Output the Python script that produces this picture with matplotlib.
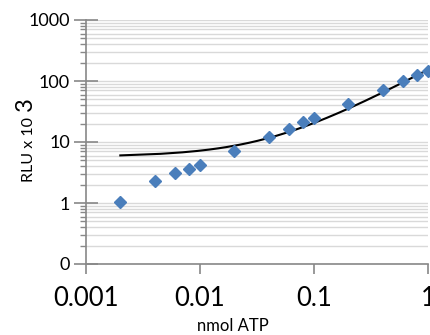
import numpy as np
import matplotlib
matplotlib.use("Agg")
import matplotlib.pyplot as plt
from matplotlib.ticker import FixedLocator, FixedFormatter, LogLocator, NullFormatter

plt.rcParams['font.family'] = ['Lato', 'DejaVu Sans']

# nmol ATP vs RLU (x 10^3)
atp = [0.002, 0.004, 0.006, 0.008, 0.01, 0.02, 0.04, 0.06, 0.08, 0.1,
       0.2, 0.4, 0.6, 0.8, 1.0]
rlu = [1.05, 2.3, 3.1, 3.6, 4.2, 7.1, 12.0, 16.3, 21.0, 24.7,
       42.0, 71.0, 100.0, 125.0, 145.0]

y_ticks = [0.1, 1, 10, 100, 1000]
y_labels = ['0', '1', '10', '100', '1000']
x_ticks = [0.001, 0.01, 0.1, 1]
x_labels = ['0.001', '0.01', '0.1', '1']

# linear trendline (as Excel does it)
slope, intercept = np.polyfit(atp, rlu, 1)
x_fit = np.linspace(atp[0], atp[-1], 400)
y_fit = slope * x_fit + intercept

fig = plt.figure(figsize=(4.31, 3.35), dpi=100)
ax = fig.add_axes([86 / 431, 1 - 264 / 335, 342 / 431, 244 / 335])

ax.set_xscale('log')
ax.set_yscale('log')
ax.set_xlim(0.001, 1)
ax.set_ylim(0.1, 1000)

ax.plot(x_fit, y_fit, color='black', lw=1.5, zorder=3)
ax.plot(atp, rlu, 'D', color='#4a7ebb', ms=6.5, mec='#4a7ebb', zorder=4, clip_on=False)

ax.yaxis.set_major_locator(FixedLocator(y_ticks))
ax.yaxis.set_major_formatter(FixedFormatter(y_labels))
ax.yaxis.set_minor_locator(LogLocator(base=10, subs=np.arange(2, 10)))
ax.yaxis.set_minor_formatter(NullFormatter())
ax.xaxis.set_major_locator(FixedLocator(x_ticks))
ax.xaxis.set_major_formatter(FixedFormatter(x_labels))
ax.xaxis.set_minor_locator(FixedLocator([]))

ax.grid(True, which='both', axis='y', color='#d9d9d9', lw=1.0, zorder=0)
ax.set_axisbelow(True)

for s in ['top', 'right']:
    ax.spines[s].set_visible(False)
for s in ['left', 'bottom']:
    ax.spines[s].set_color('#888888')
    ax.spines[s].set_linewidth(1.2)

ax.tick_params(axis='y', which='major', direction='inout', length=17, width=1.2,
               color='#888888', labelsize=13, pad=3)
ax.tick_params(axis='y', which='minor', direction='out', length=4, width=1,
               color='#888888')
ax.tick_params(axis='x', which='major', direction='out', length=7, width=1.2,
               color='#888888', labelsize=18.5, pad=9)

ax.set_xlabel('nmol ATP', fontsize=12)
ax.xaxis.set_label_coords(0.43, -0.222)

fig.text(29 / 431, 1 - 150 / 335, 'RLU x 10', rotation=90, fontsize=11.5,
         ha='center', va='center')
fig.text(25 / 431, 1 - 104 / 335, '3', rotation=90, fontsize=17,
         ha='center', va='center')

fig.savefig('out.png', dpi=100)
